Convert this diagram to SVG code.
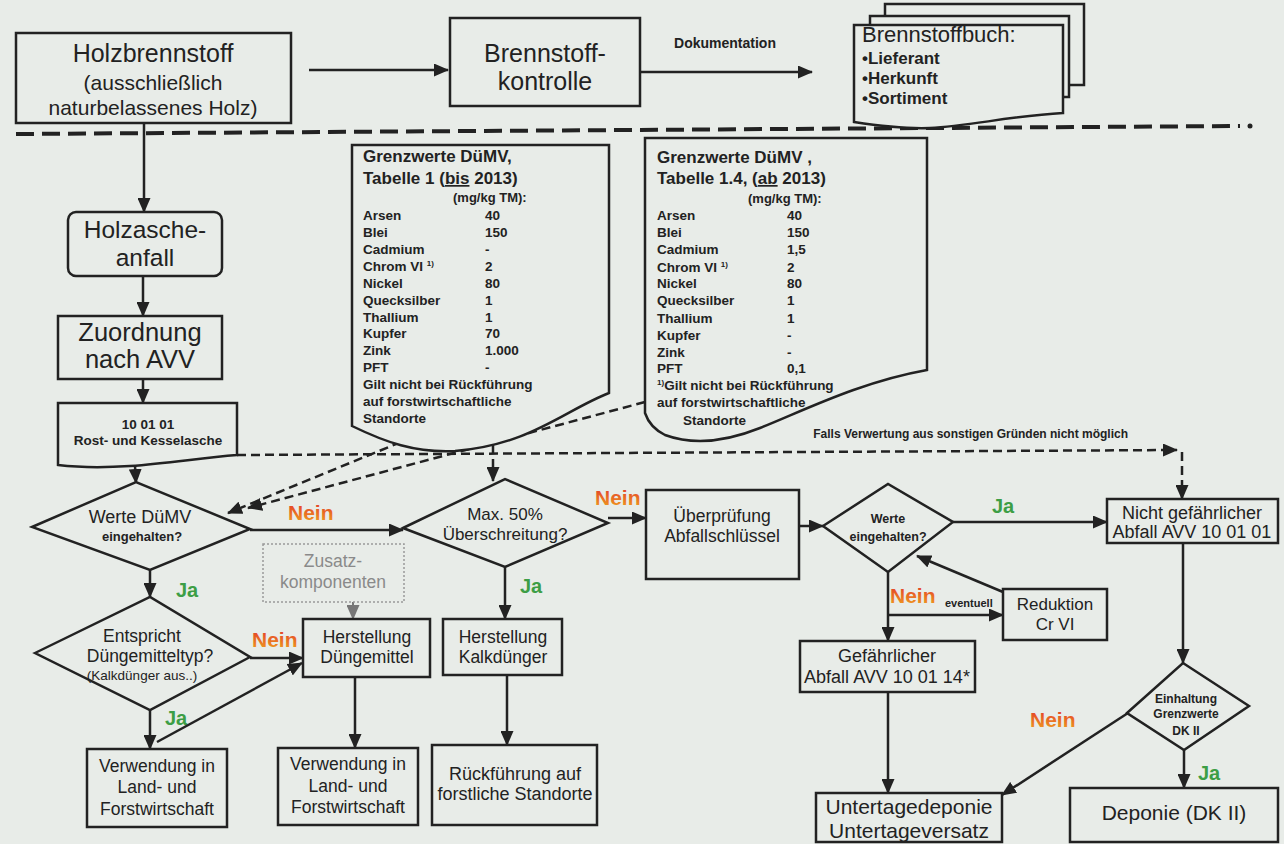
<svg xmlns="http://www.w3.org/2000/svg" width="1284" height="844" viewBox="0 0 1284 844">
<defs>
<style>
.t{font-family:"Liberation Sans",Arial,sans-serif;fill:#222}
.c{text-anchor:middle}
.b{font-weight:bold}
.box{fill:#e8ece8;stroke:#222;stroke-width:2.5}
.ln{fill:none;stroke:#222;stroke-width:2.5}
.dl{fill:none;stroke:#222;stroke-width:2.5;stroke-dasharray:9 5}
.ja{font-family:"Liberation Sans",Arial,sans-serif;fill:#3d9e45;font-weight:bold;font-size:20px}
.nein{font-family:"Liberation Sans",Arial,sans-serif;fill:url(#ng);font-weight:bold;font-size:21px}
.tb{font-family:"Liberation Sans",Arial,sans-serif;fill:#222;font-weight:bold;font-size:13.5px}
</style>
<linearGradient id="ng" x1="0" y1="0" x2="0" y2="1"><stop offset="0" stop-color="#e2342a"/><stop offset="1" stop-color="#f0a21e"/></linearGradient>
<marker id="ah" markerUnits="userSpaceOnUse" markerWidth="15" markerHeight="13" refX="14" refY="6.5" orient="auto"><path d="M0,0 L15,6.5 L0,13 z" fill="#222"/></marker>
<marker id="ahg" markerUnits="userSpaceOnUse" markerWidth="15" markerHeight="13" refX="14" refY="6.5" orient="auto"><path d="M0,0 L15,6.5 L0,13 z" fill="#777"/></marker>
</defs>
<rect width="1284" height="844" fill="#e8ece8"/>

<g id="divider">
<line x1="16" y1="134" x2="1240" y2="126" stroke="#222" stroke-width="4" stroke-dasharray="18 8"/>
<circle cx="1250" cy="126" r="2.5" fill="#222"/>
</g>

<g id="connectors">
<line class="ln" x1="309" y1="70" x2="448" y2="70" marker-end="url(#ah)"/>
<line class="ln" x1="640" y1="72" x2="812" y2="72" marker-end="url(#ah)"/>
<text class="t b c" x="725" y="48" font-size="14">Dokumentation</text>
<line class="ln" x1="144" y1="123" x2="144" y2="212" marker-end="url(#ah)"/>
<line class="ln" x1="143" y1="276" x2="143" y2="316" marker-end="url(#ah)"/>
<line class="ln" x1="143" y1="379" x2="143" y2="403" marker-end="url(#ah)"/>
<line class="ln" x1="135" y1="466" x2="136" y2="483" marker-end="url(#ah)"/>
<line class="ln" x1="150" y1="570" x2="150" y2="597" marker-end="url(#ah)"/>
<text class="ja" x="176" y="597">Ja</text>
<line class="ln" x1="250" y1="530" x2="403" y2="530" marker-end="url(#ah)"/>
<text class="nein" x="288" y="520">Nein</text>
<line class="ln" x1="250" y1="658" x2="303" y2="658" marker-end="url(#ah)"/>
<text class="nein" x="252" y="647">Nein</text>
<line class="ln" x1="150" y1="710" x2="150" y2="749" marker-end="url(#ah)"/>
<text class="ja" x="165" y="725">Ja</text>
<line class="ln" x1="157" y1="742" x2="302" y2="663" marker-end="url(#ah)"/>
<line x1="353" y1="602" x2="353" y2="619" stroke="#777" stroke-width="2" marker-end="url(#ahg)"/>
<line class="ln" x1="355" y1="677" x2="355" y2="748" marker-end="url(#ah)"/>
<line class="ln" x1="505" y1="567" x2="505" y2="619" marker-end="url(#ah)"/>
<text class="ja" x="520" y="593">Ja</text>
<line class="ln" x1="507" y1="675" x2="507" y2="745" marker-end="url(#ah)"/>
<line class="ln" x1="608" y1="518" x2="646" y2="518" marker-end="url(#ah)"/>
<text class="nein" x="595" y="505">Nein</text>
<line class="ln" x1="799" y1="526" x2="823" y2="526" marker-end="url(#ah)"/>
<line class="ln" x1="953" y1="522" x2="1107" y2="522" marker-end="url(#ah)"/>
<text class="ja" x="992" y="513">Ja</text>
<line class="ln" x1="888" y1="572" x2="888" y2="641" marker-end="url(#ah)"/>
<text class="nein" x="890" y="603">Nein</text>
<line class="ln" x1="888" y1="615" x2="1003" y2="615" marker-end="url(#ah)"/>
<text class="t b" x="945" y="607" font-size="11">eventuell</text>
<line class="ln" x1="1003" y1="592" x2="917" y2="556" marker-end="url(#ah)"/>
<line class="ln" x1="888" y1="692" x2="888" y2="793" marker-end="url(#ah)"/>
<line class="ln" x1="1183" y1="543" x2="1183" y2="663" marker-end="url(#ah)"/>
<line class="ln" x1="1128" y1="713" x2="1002" y2="795" marker-end="url(#ah)"/>
<text class="nein" x="1030" y="727">Nein</text>
<line class="ln" x1="1184" y1="750" x2="1184" y2="788" marker-end="url(#ah)"/>
<text class="ja" x="1198" y="780">Ja</text>
<path class="dl" d="M237,455 L1177,450" marker-end="url(#ah)"/>
<path class="dl" d="M1182,452 L1182,499" marker-end="url(#ah)"/>
<text class="t b" x="1128" y="438" font-size="12" text-anchor="end">Falls Verwertung aus sonstigen Gründen nicht möglich</text>
<path class="dl" d="M401,442 L228,513" marker-end="url(#ah)"/>
<path class="dl" d="M645,402 L248,508" marker-end="url(#ah)"/>
<path class="dl" d="M493,445 L493,481" marker-end="url(#ah)"/>
</g>

<g id="holzbrennstoff">
<rect class="box" x="16" y="33" width="275" height="90"/>
<text class="t c" x="153" y="62" font-size="25">Holzbrennstoff</text>
<text class="t c" x="153" y="90" font-size="21">(ausschließlich</text>
<text class="t c" x="153" y="115" font-size="21">naturbelassenes Holz)</text>
</g>

<g id="brennstoffkontrolle">
<rect class="box" x="450" y="18" width="190" height="88"/>
<text class="t c" x="545" y="62" font-size="25">Brennstoff-</text>
<text class="t c" x="545" y="90" font-size="25">kontrolle</text>
</g>

<g id="brennstoffbuch">
<rect class="box" x="885" y="4" width="199" height="81"/>
<rect class="box" x="870" y="16" width="199" height="81"/>
<path class="box" d="M854,25 H1063 V113 C1010,116 970,126 930,128 C905,129 880,126 854,122 Z"/>
<text class="t" x="862" y="42" font-size="22">Brennstoffbuch:</text>
<text class="t b" x="862" y="64" font-size="17">•Lieferant</text>
<text class="t b" x="862" y="84" font-size="17">•Herkunft</text>
<text class="t b" x="862" y="104" font-size="17">•Sortiment</text>
</g>

<g id="tabelle1">
<path class="box" d="M352,145 H609 V393 C565,410 530,445 455,451 C415,453 385,442 352,426 Z"/>
<text class="t b" x="363" y="162" font-size="17">Grenzwerte DüMV,</text>
<text class="t b" x="363" y="184" font-size="17">Tabelle 1  (<tspan text-decoration="underline">bis</tspan> 2013)</text>
<text class="t b" x="453" y="202" font-size="13">(mg/kg TM):</text>
<g class="tb">
<text x="363" y="220">Arsen</text><text x="485" y="220">40</text>
<text x="363" y="237">Blei</text><text x="485" y="237">150</text>
<text x="363" y="254">Cadmium</text><text x="485" y="254">-</text>
<text x="363" y="271">Chrom VI <tspan font-size="8" dy="-5">1)</tspan></text><text x="485" y="271">2</text>
<text x="363" y="288">Nickel</text><text x="485" y="288">80</text>
<text x="363" y="305">Quecksilber</text><text x="485" y="305">1</text>
<text x="363" y="322">Thallium</text><text x="485" y="322">1</text>
<text x="363" y="338">Kupfer</text><text x="485" y="338">70</text>
<text x="363" y="355">Zink</text><text x="485" y="355">1.000</text>
<text x="363" y="372">PFT</text><text x="485" y="372">-</text>
<text x="363" y="389">Gilt nicht bei Rückführung</text>
<text x="363" y="406">auf forstwirtschaftliche</text>
<text x="363" y="423">Standorte</text>
</g>
</g>

<g id="tabelle2">
<path class="box" d="M645,138 H927 V370 C860,382 805,410 760,428 C730,440 695,446 665,435 C655,430 648,422 645,413 Z"/>
<text class="t b" x="657" y="163" font-size="17">Grenzwerte DüMV ,</text>
<text class="t b" x="657" y="184" font-size="17">Tabelle 1.4, (<tspan text-decoration="underline">ab</tspan> 2013)</text>
<text class="t b" x="748" y="203" font-size="13">(mg/kg TM):</text>
<g class="tb">
<text x="657" y="220">Arsen</text><text x="787" y="220">40</text>
<text x="657" y="237">Blei</text><text x="787" y="237">150</text>
<text x="657" y="254">Cadmium</text><text x="787" y="254">1,5</text>
<text x="657" y="272">Chrom VI <tspan font-size="8" dy="-5">1)</tspan></text><text x="787" y="272">2</text>
<text x="657" y="288">Nickel</text><text x="787" y="288">80</text>
<text x="657" y="305">Quecksilber</text><text x="787" y="305">1</text>
<text x="657" y="323">Thallium</text><text x="787" y="323">1</text>
<text x="657" y="340">Kupfer</text><text x="787" y="340">-</text>
<text x="657" y="357">Zink</text><text x="787" y="357">-</text>
<text x="657" y="373">PFT</text><text x="787" y="373">0,1</text>
<text x="657" y="390"><tspan font-size="8" dy="-5">1)</tspan><tspan dy="5">Gilt nicht bei Rückführung</tspan></text>
<text x="657" y="407">auf forstwirtschaftliche</text>
<text x="683" y="425">Standorte</text>
</g>
</g>

<g id="holzasche">
<rect class="box" x="68" y="212" width="154" height="64" rx="8"/>
<text class="t c" x="145" y="238" font-size="24.5">Holzasche-</text>
<text class="t c" x="145" y="266" font-size="24.5">anfall</text>
</g>

<g id="zuordnung">
<rect class="box" x="58" y="316" width="164" height="63"/>
<text class="t c" x="140" y="341" font-size="25.5">Zuordnung</text>
<text class="t c" x="140" y="368" font-size="25.5">nach AVV</text>
</g>

<g id="rostasche">
<path class="box" d="M58,403 H237 V455 C200,458 170,463 130,466 C100,468 75,467 58,465 Z"/>
<text class="t b c" x="148" y="429" font-size="13.5">10 01 01</text>
<text class="t b c" x="148" y="445" font-size="13.5">Rost- und Kesselasche</text>
</g>

<g id="werte-duemv">
<polygon class="box" points="32,527 136,482 250,529 150,570"/>
<text class="t c" x="140" y="523" font-size="18">Werte DüMV</text>
<text class="t b c" x="142" y="541" font-size="13">eingehalten?</text>
</g>

<g id="entspricht">
<polygon class="box" points="35,653 150,597 250,657 150,710"/>
<text class="t c" x="142" y="642" font-size="17.5">Entspricht</text>
<text class="t c" x="150" y="662" font-size="17.5">Düngemitteltyp?</text>
<text class="t c" x="142" y="680" font-size="13.5">(Kalkdünger aus..)</text>
</g>

<g id="verwendung1">
<rect class="box" x="87" y="749" width="140" height="78"/>
<text class="t c" x="157" y="772" font-size="17.5">Verwendung in</text>
<text class="t c" x="157" y="793" font-size="17.5">Land- und</text>
<text class="t c" x="157" y="815" font-size="17.5">Forstwirtschaft</text>
</g>

<g id="max50">
<polygon class="box" points="403,528 505,479 608,523 505,567"/>
<text class="t c" x="505" y="520" font-size="17">Max. 50%</text>
<text class="t c" x="505" y="540" font-size="17">Überschreitung?</text>
</g>

<g id="zusatz">
<rect x="263" y="544" width="141" height="58" fill="none" stroke="#999" stroke-width="1.5" stroke-dasharray="2 2"/>
<text class="c" x="333" y="567" font-size="17.5" font-family="Liberation Sans, Arial, sans-serif" fill="#8a8a8a">Zusatz-</text>
<text class="c" x="333" y="588" font-size="17.5" font-family="Liberation Sans, Arial, sans-serif" fill="#8a8a8a">komponenten</text>
</g>

<g id="herstellung-duengemittel">
<rect class="box" x="303" y="619" width="127" height="58"/>
<text class="t c" x="367" y="643" font-size="17.5">Herstellung</text>
<text class="t c" x="367" y="663" font-size="17.5">Düngemittel</text>
</g>

<g id="verwendung2">
<rect class="box" x="278" y="748" width="140" height="77"/>
<text class="t c" x="348" y="770" font-size="17.5">Verwendung in</text>
<text class="t c" x="348" y="792" font-size="17.5">Land- und</text>
<text class="t c" x="348" y="813" font-size="17.5">Forstwirtschaft</text>
</g>

<g id="herstellung-kalkduenger">
<rect class="box" x="443" y="619" width="119" height="56"/>
<text class="t c" x="503" y="643" font-size="17.5">Herstellung</text>
<text class="t c" x="503" y="663" font-size="17.5">Kalkdünger</text>
</g>

<g id="rueckfuehrung">
<rect class="box" x="432" y="745" width="165" height="80"/>
<text class="t c" x="515" y="780" font-size="18">Rückführung auf</text>
<text class="t c" x="515" y="800" font-size="18">forstliche Standorte</text>
</g>

<g id="ueberpruefung">
<rect class="box" x="646" y="490" width="153" height="89"/>
<text class="t c" x="722" y="522" font-size="17.5">Überprüfung</text>
<text class="t c" x="722" y="542" font-size="17.5">Abfallschlüssel</text>
</g>

<g id="werte-eingehalten">
<polygon class="box" points="823,526 888,484 953,522 888,572"/>
<text class="t b c" x="888" y="523" font-size="12.5">Werte</text>
<text class="t b c" x="888" y="541" font-size="12.5">eingehalten?</text>
</g>

<g id="reduktion">
<rect class="box" x="1003" y="589" width="104" height="51"/>
<text class="t c" x="1055" y="610" font-size="17">Reduktion</text>
<text class="t c" x="1055" y="630" font-size="17">Cr VI</text>
</g>

<g id="gefaehrlich">
<rect class="box" x="800" y="641" width="175" height="51"/>
<text class="t c" x="887" y="662" font-size="18">Gefährlicher</text>
<text class="t c" x="887" y="683" font-size="18">Abfall AVV 10 01 14*</text>
</g>

<g id="untertage">
<rect class="box" x="816" y="793" width="186" height="49"/>
<text class="t c" x="909" y="814" font-size="21">Untertagedeponie</text>
<text class="t c" x="909" y="838" font-size="21">Untertageversatz</text>
</g>

<g id="nicht-gefaehrlich">
<rect class="box" x="1107" y="499" width="171" height="44"/>
<text class="t c" x="1192" y="519" font-size="18">Nicht gefährlicher</text>
<text class="t c" x="1192" y="538" font-size="18">Abfall AVV 10 01 01</text>
</g>

<g id="einhaltung">
<polygon class="box" points="1127,713 1183,663 1249,706 1184,750"/>
<text class="t b c" x="1186" y="703" font-size="12">Einhaltung</text>
<text class="t b c" x="1186" y="718" font-size="12">Grenzwerte</text>
<text class="t b c" x="1186" y="735" font-size="12">DK II</text>
</g>

<g id="deponie">
<rect class="box" x="1070" y="788" width="208" height="54"/>
<text class="t c" x="1174" y="820" font-size="21">Deponie (DK II)</text>
</g>
</svg>
